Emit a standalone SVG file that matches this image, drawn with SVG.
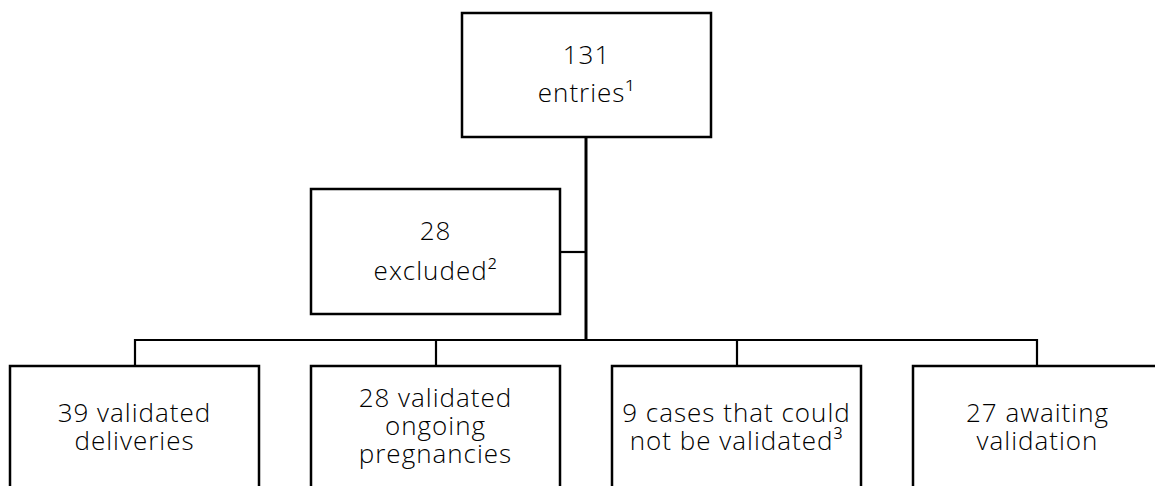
<svg xmlns="http://www.w3.org/2000/svg" width="1155" height="486" viewBox="0 0 1155 486">
<style>
.box{fill:#fff;stroke:#000;stroke-width:2.5}
.t{font-family:"Open Sans","Liberation Sans",sans-serif;font-size:26px;font-weight:300;letter-spacing:1px;fill:#000;text-anchor:middle}
.c{fill:none;stroke:#000;stroke-width:2.2}
.trunk{fill:none;stroke:#000;stroke-width:3}
</style>
<rect width="1155" height="486" fill="#fff"/>
<g id="connectors">
<line class="trunk" x1="586" y1="137" x2="586" y2="341"/>
<line class="c" x1="560" y1="252" x2="586" y2="252"/>
<polyline class="c" points="135,366 135,340 1037,340 1037,366"/>
<line class="c" x1="436" y1="340" x2="436" y2="366"/>
<line class="c" x1="737" y1="340" x2="737" y2="366"/>
</g>
<g id="n-entries">
<rect class="box" x="462" y="13" width="249" height="124"/>
<text class="t" x="586.5" y="64">131</text>
<text class="t" x="586.5" y="102">entries¹</text>
</g>
<g id="n-excluded">
<rect class="box" x="311" y="189" width="249" height="125"/>
<text class="t" x="435.5" y="240">28</text>
<text class="t" x="435.5" y="280">excluded²</text>
</g>
<g id="n-deliveries">
<rect class="box" x="10" y="366" width="249" height="135"/>
<text class="t" y="422"><tspan x="134.5">39 validated</tspan><tspan x="134.5" dy="28">deliveries</tspan></text>
</g>
<g id="n-pregnancies">
<rect class="box" x="311" y="366" width="249" height="135"/>
<text class="t" y="407"><tspan x="435.5">28 validated</tspan><tspan x="435.5" dy="28">ongoing</tspan><tspan x="435.5" dy="28">pregnancies</tspan></text>
</g>
<g id="n-notvalidated">
<rect class="box" x="612" y="366" width="249" height="135"/>
<text class="t" y="422"><tspan x="736.5">9 cases that could</tspan><tspan x="736.5" dy="28">not be validated³</tspan></text>
</g>
<g id="n-awaiting">
<rect class="box" x="913" y="366" width="249" height="135"/>
<text class="t" y="422"><tspan x="1037.5">27 awaiting</tspan><tspan x="1037.5" dy="28">validation</tspan></text>
</g>
</svg>
